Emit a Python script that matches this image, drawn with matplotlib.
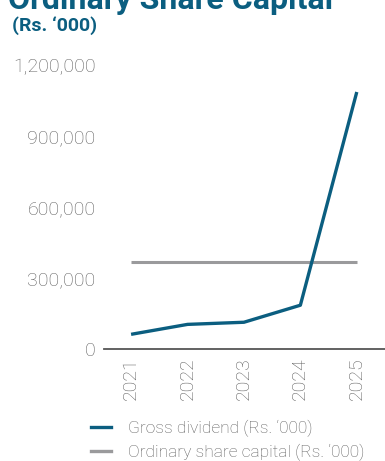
import matplotlib
matplotlib.use("Agg")
import matplotlib.pyplot as plt
from matplotlib.ticker import FuncFormatter
from matplotlib.lines import Line2D

years = ["2021", "2022", "2023", "2024", "2025"]
gross_dividend = [62000, 104000, 113000, 185000, 1086000]
share_capital = [369000, 369000, 369000, 369000, 369000]
y_ticks = [0, 300000, 600000, 900000, 1200000]

teal = "#0b5e80"
grey_line = "#9a9a9c"
text_grey = "#5f5f5f"

plt.rcParams["font.family"] = ["Roboto", "DejaVu Sans"]

fig = plt.figure(figsize=(3.85, 4.61), dpi=100)
ax = fig.add_axes([104 / 385, 1 - 349 / 461, 1 - 104 / 385, (349 - 65) / 461])

x = range(len(years))
ax.plot(x, share_capital, color=grey_line, lw=2.2, solid_capstyle="butt", zorder=2)
ax.plot(x, gross_dividend, color=teal, lw=2.4, solid_capstyle="butt", zorder=3)

ax.set_xlim(-0.48, 4.5)
ax.set_ylim(0, 1200000)
ax.set_yticks(y_ticks)
ax.yaxis.set_major_formatter(FuncFormatter(lambda v, p: f"{int(v):,}"))
ax.set_xticks(list(x))
ax.set_xticklabels(years, rotation=90)

for s in ["top", "right", "left"]:
    ax.spines[s].set_visible(False)
ax.spines["bottom"].set_color("#555555")
ax.spines["bottom"].set_linewidth(1.3)
ax.tick_params(axis="both", length=0, colors=text_grey, labelsize=14)
ax.tick_params(axis="y", pad=6)
ax.tick_params(axis="x", pad=6)
for lab in ax.get_xticklabels() + ax.get_yticklabels():
    lab.set_fontweight("light")
ax.set_facecolor("none")

fig.text(8 / 385, 1 - 9 / 461, "Ordinary Share Capital", color=teal,
         fontsize=23, fontweight="bold", ha="left", va="baseline")
fig.text(12 / 385, 1 - 31 / 461, "(Rs. \u2018000)", color=teal,
         fontsize=14, fontweight="bold", ha="left", va="baseline")

handles = [Line2D([], [], color=teal, lw=2.4),
           Line2D([], [], color=grey_line, lw=2.4)]
labels = ["Gross dividend (Rs. \u2018000)", "Ordinary share capital (Rs. \u2018000)"]
leg = fig.legend(handles, labels, loc="upper left",
                 bbox_to_anchor=(84 / 385, 1 - 413 / 461),
                 frameon=False, fontsize=12.5, handlelength=1.15,
                 handletextpad=1.0, labelspacing=0.4, borderaxespad=0)
for t in leg.get_texts():
    t.set_color(text_grey)
    t.set_fontweight("light")

fig.savefig("out.png", dpi=100)
